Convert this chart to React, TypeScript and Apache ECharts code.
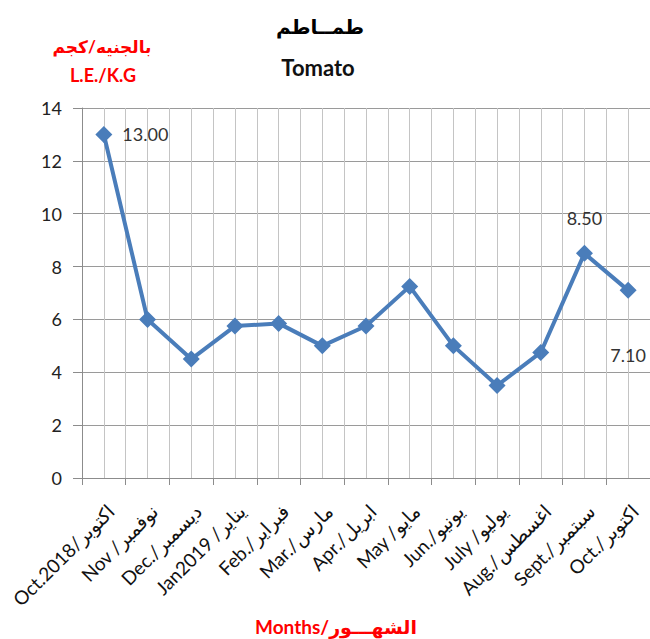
import React, { useEffect, useRef } from "react";
import * as echarts from "echarts";

const categories = [
  "Oct.2018/اكتوبر",
  "Nov /نوفمبر",
  "Dec./ديسمبر",
  "Jan2019 /يناير",
  "Feb./فبراير",
  "Mar./مارس",
  "Apr./ابريل",
  "May /مايو",
  "Jun./يونيو",
  "July /يوليو",
  "Aug./اغسطس",
  "Sept./سبتمبر",
  "Oct./اكتوبر",
];

const prices = [13.0, 6.0, 4.5, 5.75, 5.85, 5.0, 5.75, 7.25, 5.0, 3.5, 4.75, 8.5, 7.1];

const yMin = 0;
const yMax = 14;
const yStep = 2;

const titleAr = "طمــاطم";
const titleEn = "Tomato";
const unitAr = "بالجنيه/كجم";
const unitEn = "L.E./K.G";
const xName = "Months/الشهـــور";

// which points carry a data label, and where
const labelPlacement: Record<number, { position: string; distance: number }> = {
  0: { position: "right", distance: 10 },
  11: { position: "top", distance: 18 },
  12: { position: "bottom", distance: 47 },
};

const FONT = "Lato, 'DejaVu Sans', 'Noto Sans', sans-serif";
const LINE_BLUE = "#4a7dba";

export default function App() {
  const ref = useRef<HTMLDivElement>(null);

  useEffect(() => {
    if (!ref.current) return;
    const chart = echarts.init(ref.current, undefined, { renderer: "svg" });

    const seriesData = prices.map((v, i) => {
      const lp = labelPlacement[i];
      if (!lp) return v;
      return {
        value: v,
        label: {
          show: true,
          position: lp.position,
          distance: lp.distance,
          formatter: (p: any) => Number(p.value).toFixed(2),
          fontSize: 18,
          color: "#333",
          fontFamily: FONT,
        },
      };
    });

    chart.setOption({
      animation: false,
      backgroundColor: "#ffffff",
      textStyle: { fontFamily: FONT },
      grid: { left: 82, top: 108, bottom: 161, right: -3 },
      xAxis: [
        {
          type: "category",
          data: categories,
          boundaryGap: true,
          axisLine: { show: true, lineStyle: { color: "#8c8c8c", width: 1 } },
          axisTick: { show: true, length: 7, lineStyle: { color: "#8c8c8c" } },
          axisLabel: {
            rotate: 45,
            interval: 0,
            margin: 23,
            verticalAlign: "top",
            fontSize: 19,
            color: "#111",
            fontFamily: FONT,
          },
          splitLine: { show: false },
        },
        {
          type: "value",
          min: 0,
          max: categories.length,
          interval: 0.5,
          position: "bottom",
          axisLine: { show: false },
          axisTick: { show: false },
          axisLabel: { show: false },
          splitLine: { show: true, lineStyle: { color: "#c4c4c4", width: 1 } },
        },
      ],
      yAxis: {
        type: "value",
        min: yMin,
        max: yMax,
        interval: yStep,
        axisLine: { show: true, lineStyle: { color: "#8c8c8c" } },
        axisTick: { show: true, length: 9, lineStyle: { color: "#8c8c8c" } },
        axisLabel: { margin: 20, fontSize: 18, color: "#222", fontFamily: FONT },
        splitLine: { show: true, lineStyle: { color: "#9a9a9a", width: 1 } },
      },
      series: [
        {
          type: "line",
          xAxisIndex: 0,
          yAxisIndex: 0,
          data: seriesData,
          symbol: "diamond",
          symbolSize: 17,
          itemStyle: { color: LINE_BLUE },
          lineStyle: { color: LINE_BLUE, width: 4 },
          label: { show: false },
          z: 5,
        },
      ],
      graphic: [
        {
          type: "text",
          x: 320,
          y: 26,
          style: {
            text: titleAr,
            font: `bold 20px ${FONT}`,
            fill: "#000",
            align: "center",
            verticalAlign: "middle",
          },
        },
        {
          type: "text",
          x: 318,
          y: 67,
          style: {
            text: titleEn,
            font: `bold 22px ${FONT}`,
            fill: "#111",
            align: "center",
            verticalAlign: "middle",
          },
        },
        {
          type: "text",
          x: 102,
          y: 46,
          style: {
            text: unitAr,
            font: `bold 17px ${FONT}`,
            fill: "#ff0000",
            align: "center",
            verticalAlign: "middle",
          },
        },
        {
          type: "text",
          x: 103,
          y: 75,
          style: {
            text: unitEn,
            font: `bold 18px ${FONT}`,
            fill: "#ff0000",
            align: "center",
            verticalAlign: "middle",
          },
        },
        {
          type: "text",
          x: 336,
          y: 626,
          style: {
            text: xName,
            font: `bold 19px ${FONT}`,
            fill: "#ff0000",
            align: "center",
            verticalAlign: "middle",
          },
        },
      ],
    });

    return () => chart.dispose();
  }, []);

  return (
    <div
      ref={ref}
      style={{ position: "absolute", left: 0, top: 0, width: 650, height: 639 }}
    />
  );
}
